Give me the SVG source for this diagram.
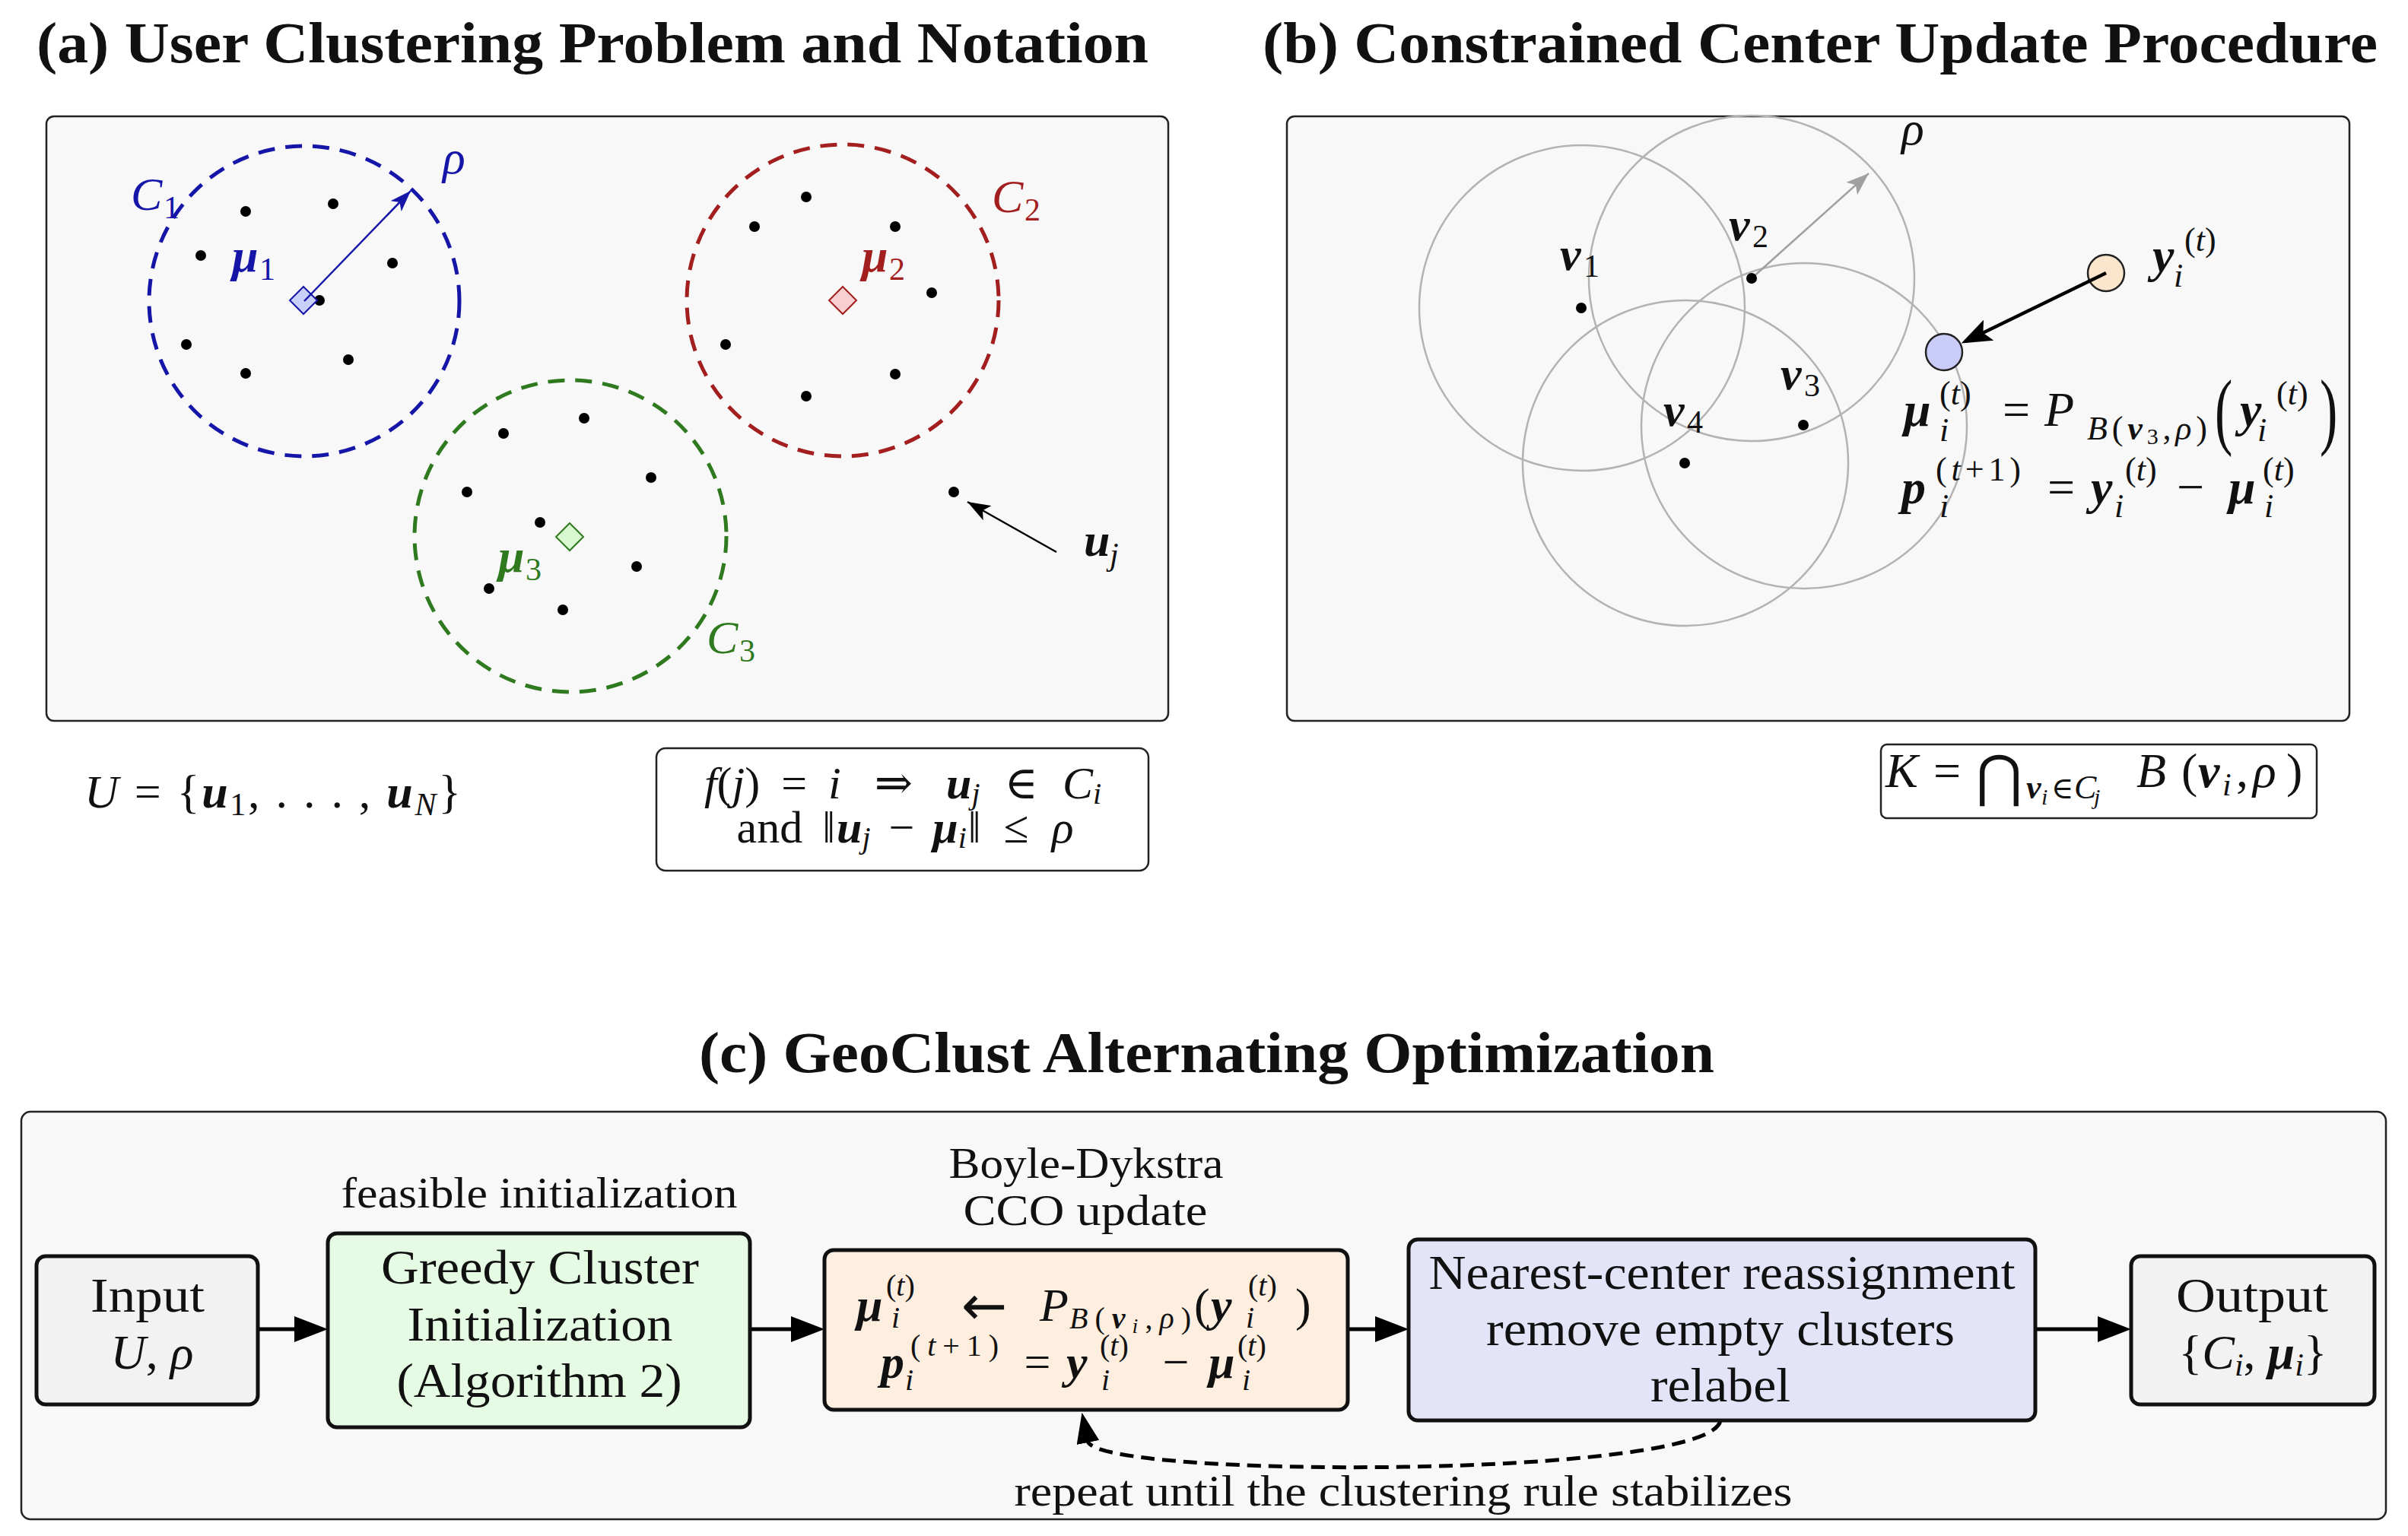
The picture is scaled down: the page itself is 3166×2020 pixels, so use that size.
<svg xmlns="http://www.w3.org/2000/svg" width="3166" height="2020" viewBox="0 0 3166 2020">
<defs>
<style>
.ttl{font-family:"Liberation Serif","DejaVu Serif",serif;font-weight:bold;font-size:76px;fill:#111}
.t{font-family:"Liberation Serif","DejaVu Serif",serif;fill:#111}
.it{font-style:italic}
.bi{font-style:italic;font-weight:bold}
.panel{fill:#f8f8f8;stroke:#222;stroke-width:2.5}
.node{stroke:#111;stroke-width:5}
.dot{fill:#000}
.gc{fill:none;stroke:#b3b3b3;stroke-width:2.5}
.blue{fill:#1515a8}
.red{fill:#a31f1f}
.green{fill:#2f7a1f}
.bx{font-size:64px}
.lb{font-size:58px}
.m64{font-size:64px}
.m62{font-size:62px}
.s44{font-size:44px}
.s42{font-size:42px}
.s40{font-size:40px}
</style>
<marker id="mC" viewBox="0 0 44 34" markerWidth="44" markerHeight="34" refX="24" refY="17" orient="auto" markerUnits="userSpaceOnUse"><path d="M0,0 L44,17 L0,34 z" fill="#000"/></marker>
<marker id="mLoop" viewBox="0 0 40 30" markerWidth="40" markerHeight="30" refX="2" refY="15" orient="auto" markerUnits="userSpaceOnUse"><path d="M0,0 L40,15 L0,30 z" fill="#000"/></marker>
<marker id="mBlue" viewBox="0 0 28 20" markerWidth="28" markerHeight="20" refX="28" refY="10" orient="auto" markerUnits="userSpaceOnUse"><path d="M0,0 L28,10 L0,20 L7,10 z" fill="#1515a8"/></marker>
<marker id="mBlack" viewBox="0 0 30 22" markerWidth="30" markerHeight="22" refX="30" refY="11" orient="auto" markerUnits="userSpaceOnUse"><path d="M0,0 L30,11 L0,22 L7,11 z" fill="#000"/></marker>
<marker id="mGray" viewBox="0 0 30 22" markerWidth="30" markerHeight="22" refX="30" refY="11" orient="auto" markerUnits="userSpaceOnUse"><path d="M0,0 L30,11 L0,22 L7,11 z" fill="#a0a0a0"/></marker>
<marker id="mThick" viewBox="0 0 40 30" markerWidth="40" markerHeight="30" refX="34" refY="15" orient="auto" markerUnits="userSpaceOnUse"><path d="M0,0 L40,15 L0,30 L8,15 z" fill="#000"/></marker>
</defs>
<rect width="3166" height="2020" fill="#fff"/>

<!-- Titles -->
<text class="ttl" x="48" y="82" textLength="1462" lengthAdjust="spacingAndGlyphs">(a) User Clustering Problem and Notation</text>
<text class="ttl" x="1660" y="82" textLength="1466" lengthAdjust="spacingAndGlyphs">(b) Constrained Center Update Procedure</text>
<text class="ttl" x="919" y="1410" textLength="1335" lengthAdjust="spacingAndGlyphs">(c) GeoClust Alternating Optimization</text>

<!-- Panel (a) -->
<g id="panel-a">
<rect class="panel" x="61" y="153" width="1475" height="795" rx="10"/>
<circle cx="400" cy="396" r="204" fill="none" stroke="#1515a8" stroke-width="5" stroke-dasharray="22 14"/>
<circle cx="1108" cy="395" r="205" fill="none" stroke="#a31f1f" stroke-width="5" stroke-dasharray="22 14"/>
<circle cx="750" cy="705" r="205" fill="none" stroke="#2f7a1f" stroke-width="5" stroke-dasharray="22 14"/>
<g class="dot">
<circle cx="323" cy="278" r="7"/><circle cx="438" cy="268" r="7"/><circle cx="264" cy="336" r="7"/><circle cx="516" cy="346" r="7"/><circle cx="420" cy="395" r="7"/><circle cx="245" cy="453" r="7"/><circle cx="458" cy="473" r="7"/><circle cx="323" cy="491" r="7"/>
<circle cx="1060" cy="259" r="7"/><circle cx="992" cy="298" r="7"/><circle cx="1177" cy="298" r="7"/><circle cx="1225" cy="385" r="7"/><circle cx="954" cy="453" r="7"/><circle cx="1177" cy="492" r="7"/><circle cx="1060" cy="521" r="7"/>
<circle cx="768" cy="550" r="7"/><circle cx="662" cy="570" r="7"/><circle cx="856" cy="628" r="7"/><circle cx="614" cy="647" r="7"/><circle cx="710" cy="687" r="7"/><circle cx="837" cy="745" r="7"/><circle cx="643" cy="774" r="7"/><circle cx="740" cy="802" r="7"/>
<circle cx="1254" cy="647" r="7"/>
</g>
<path d="M399,377 L417,395 L399,413 L381,395 z" fill="#c8d0f8" stroke="#1515a8" stroke-width="2"/>
<path d="M1108,377 L1126,395 L1108,413 L1090,395 z" fill="#f8d0d0" stroke="#a31f1f" stroke-width="2"/>
<path d="M749,688 L767,706 L749,724 L731,706 z" fill="#d8f8d0" stroke="#2f7a1f" stroke-width="2"/>
<line x1="400" y1="396" x2="540" y2="251" stroke="#1515a8" stroke-width="2.5" marker-end="url(#mBlue)"/>
<line x1="1389" y1="726" x2="1272" y2="660" stroke="#000" stroke-width="2.5" marker-end="url(#mBlack)"/>
<text class="t it blue" x="172" y="276" font-size="62">C</text><text class="t blue" x="215" y="287" font-size="42">1</text>
<text class="t it blue" x="582" y="228" font-size="62">ρ</text>
<text class="t bi blue" x="305" y="357" font-size="62">μ</text><text class="t blue" x="341" y="368" font-size="42">1</text>
<text class="t bi red" x="1133" y="357" font-size="62">μ</text><text class="t red" x="1169" y="368" font-size="42">2</text>
<text class="t it red" x="1304" y="279" font-size="62">C</text><text class="t red" x="1347" y="290" font-size="42">2</text>
<text class="t bi green" x="655" y="752" font-size="62">μ</text><text class="t green" x="691" y="763" font-size="42">3</text>
<text class="t it green" x="929" y="859" font-size="62">C</text><text class="t green" x="972" y="870" font-size="42">3</text>
<text class="t bi" x="1425" y="731" font-size="62">u</text><text class="t it" x="1459" y="743" font-size="42">j</text>
</g>

<g id="set-U">
<text class="t" x="111" y="1062" font-size="62" textLength="495"><tspan class="it">U</tspan> = {<tspan class="bi">u</tspan><tspan font-size="42" dy="10">1</tspan><tspan dy="-10">, . . . , </tspan><tspan class="bi">u</tspan><tspan class="it" font-size="42" dy="10">N</tspan><tspan dy="-10">}</tspan></text>
</g>

<g id="rule-box">
<rect x="863" y="984" width="647" height="161" rx="12" fill="#fff" stroke="#222" stroke-width="2.5"/>
<text class="t" x="1187" y="1050" font-size="60" text-anchor="middle"><tspan class="it">f</tspan>(<tspan class="it">j</tspan>)<tspan dx="28">=</tspan><tspan class="it" dx="28">i</tspan><tspan dx="44">⇒</tspan><tspan class="bi" dx="44">u</tspan><tspan class="it" font-size="40" dy="7">j</tspan><tspan dy="-7" dx="32">∈</tspan><tspan class="it" dx="32">C</tspan><tspan class="it" font-size="40" dy="7">i</tspan></text>
<text class="t" x="1190" y="1108" font-size="60" text-anchor="middle">and<tspan dx="26">‖</tspan><tspan class="bi" dx="2">u</tspan><tspan class="it" font-size="40" dy="7">j</tspan><tspan dy="-7" dx="24">−</tspan><tspan class="bi" dx="24">μ</tspan><tspan class="it" font-size="40" dy="7">i</tspan><tspan dy="-7" dx="2">‖</tspan><tspan dx="30">≤</tspan><tspan class="it" dx="30">ρ</tspan></text>
</g>

<!-- Panel (b) -->
<g id="panel-b">
<rect class="panel" x="1692" y="153" width="1397" height="795" rx="10"/>
<circle class="gc" cx="2080" cy="405" r="214"/>
<circle class="gc" cx="2303" cy="366" r="214"/>
<circle class="gc" cx="2372" cy="560" r="214"/>
<circle class="gc" cx="2216" cy="609" r="214"/>
<line x1="2303" y1="366" x2="2457" y2="228" stroke="#a0a0a0" stroke-width="2.5" marker-end="url(#mGray)"/>
<text class="t it" x="2500" y="190" font-size="62" fill="#a8a8a8">ρ</text>
<g class="dot"><circle cx="2079" cy="405" r="7"/><circle cx="2303" cy="366" r="7"/><circle cx="2371" cy="559" r="7"/><circle cx="2215" cy="609" r="7"/></g>
<text class="t bi" x="2051" y="355" font-size="62">v</text><text class="t" x="2082" y="364" font-size="42">1</text>
<text class="t bi" x="2273" y="316" font-size="62">v</text><text class="t" x="2304" y="325" font-size="42">2</text>
<text class="t bi" x="2341" y="512" font-size="62">v</text><text class="t" x="2372" y="521" font-size="42">3</text>
<text class="t bi" x="2187" y="560" font-size="62">v</text><text class="t" x="2218" y="569" font-size="42">4</text>
<circle cx="2769" cy="359" r="24" fill="#fbe5cc" stroke="#222" stroke-width="2.5"/>
<circle cx="2556" cy="463" r="24" fill="#c9ccf6" stroke="#222" stroke-width="2.5"/>
<line x1="2769" y1="359" x2="2584" y2="449" stroke="#000" stroke-width="4.5" marker-end="url(#mThick)"/>
<text class="t bi m64" x="2830" y="357">y</text><text class="t s44" x="2872" y="330">(<tspan class="it">t</tspan>)</text><text class="t it s44" x="2858" y="377">i</text>
<!-- equation 1 -->
<text class="t bi m64" x="2503" y="560">μ</text><text class="t s44" x="2550" y="532">(<tspan class="it">t</tspan>)</text><text class="t it s44" x="2550" y="580">i</text>
<text class="t m64" x="2651" y="560" text-anchor="middle">=</text>
<text class="t it m64" x="2688" y="560">P</text>
<text class="t s44" x="2744" y="578" textLength="158"><tspan class="it">B</tspan>(<tspan class="bi">v</tspan><tspan font-size="30" dy="6">3</tspan><tspan dy="-6">,</tspan><tspan class="it">ρ</tspan>)</text>
<text class="t" font-size="70" transform="translate(2912,577) scale(1,1.6)">(</text>
<text class="t bi m64" x="2945" y="560">y</text><text class="t s44" x="2993" y="532">(<tspan class="it">t</tspan>)</text><text class="t it s44" x="2968" y="580">i</text>
<text class="t" font-size="70" transform="translate(3050,577) scale(1,1.6)">)</text>
<!-- equation 2 -->
<text class="t bi m64" x="2500" y="662">p</text><text class="t s44" x="2545" y="632" textLength="112">(<tspan class="it">t</tspan>+1)</text><text class="t it s44" x="2550" y="680">i</text>
<text class="t m64" x="2710" y="662" text-anchor="middle">=</text>
<text class="t bi m64" x="2749" y="662">y</text><text class="t s44" x="2794" y="632">(<tspan class="it">t</tspan>)</text><text class="t it s44" x="2780" y="680">i</text>
<text class="t m64" x="2880" y="662" text-anchor="middle">−</text>
<text class="t bi m64" x="2930" y="662">μ</text><text class="t s44" x="2975" y="632">(<tspan class="it">t</tspan>)</text><text class="t it s44" x="2977" y="680">i</text>
</g>

<g id="K-box">
<rect x="2473" y="979" width="573" height="97" rx="8" fill="#fff" stroke="#222" stroke-width="2.5"/>
<text class="t it m64" x="2479" y="1035">K</text>
<text class="t m64" x="2560" y="1035" text-anchor="middle">=</text>
<text x="2598" y="1046" font-family="DejaVu Sans,sans-serif" font-size="74" fill="#111">⋂</text>
<text class="t bi s44" x="2664" y="1050">v</text><text class="t it" x="2684" y="1058" font-size="30">i</text>
<text class="t" x="2697" y="1050" font-size="40">∈</text>
<text class="t it s44" x="2727" y="1050">C</text><text class="t it" x="2753" y="1058" font-size="30">j</text>
<text class="t it m64" x="2809" y="1035">B</text>
<text class="t m64" x="2868" y="1035">(</text>
<text class="t bi m64" x="2890" y="1035">v</text><text class="t it s42" x="2922" y="1046">i</text>
<text class="t m64" x="2940" y="1035">,</text>
<text class="t it m64" x="2962" y="1035">ρ</text>
<text class="t m64" x="3006" y="1035">)</text>
</g>

<!-- Panel (c) -->
<rect id="panel-c" class="panel" x="28" y="1462" width="3109" height="536" rx="12"/>

<g id="connectors">
<line x1="339" y1="1748" x2="411" y2="1748" stroke="#000" stroke-width="5" marker-end="url(#mC)"/>
<line x1="986" y1="1748" x2="1064" y2="1748" stroke="#000" stroke-width="5" marker-end="url(#mC)"/>
<line x1="1772" y1="1748" x2="1832" y2="1748" stroke="#000" stroke-width="5" marker-end="url(#mC)"/>
<line x1="2676" y1="1748" x2="2782" y2="1748" stroke="#000" stroke-width="5" marker-end="url(#mC)"/>
<path d="M2262,1868 C2250,1945 1440,1945 1430,1895" fill="none" stroke="#000" stroke-width="5" stroke-dasharray="18 10" marker-end="url(#mLoop)"/>
<text class="t lb" x="1845" y="1980" text-anchor="middle" textLength="1023" lengthAdjust="spacingAndGlyphs">repeat until the clustering rule stabilizes</text>
</g>

<g id="node-input">
<rect class="node" x="48" y="1652" width="291" height="195" rx="12" fill="#f2f2f2"/>
<text class="t bx" x="194" y="1725" text-anchor="middle" textLength="150" lengthAdjust="spacingAndGlyphs">Input</text>
<text class="t bx" x="200" y="1800" text-anchor="middle"><tspan class="it">U</tspan>, <tspan class="it">ρ</tspan></text>
</g>

<g id="node-greedy">
<text class="t lb" x="709" y="1588" text-anchor="middle" textLength="521" lengthAdjust="spacingAndGlyphs">feasible initialization</text>
<rect class="node" x="431" y="1622" width="555" height="255" rx="12" fill="#e6fbe4"/>
<text class="t bx" x="710" y="1688" text-anchor="middle" textLength="418" lengthAdjust="spacingAndGlyphs">Greedy Cluster</text>
<text class="t bx" x="710" y="1763" text-anchor="middle" textLength="349" lengthAdjust="spacingAndGlyphs">Initialization</text>
<text class="t bx" x="709" y="1837" text-anchor="middle" textLength="375" lengthAdjust="spacingAndGlyphs">(Algorithm 2)</text>
</g>

<g id="node-cco">
<text class="t lb" x="1428" y="1549" text-anchor="middle" textLength="361" lengthAdjust="spacingAndGlyphs">Boyle-Dykstra</text>
<text class="t lb" x="1427" y="1611" text-anchor="middle" textLength="321" lengthAdjust="spacingAndGlyphs">CCO update</text>
<rect class="node" x="1084" y="1644" width="688" height="210" rx="12" fill="#fdeee0"/>
<text class="t bi m62" x="1126" y="1737">μ</text><text class="t s40" x="1165" y="1704">(<tspan class="it">t</tspan>)</text><text class="t it s40" x="1172" y="1746">i</text>
<text x="1264" y="1742" font-family="DejaVu Sans,sans-serif" font-size="72" fill="#111">←</text>
<text class="t it m62" x="1367" y="1737">P</text>
<text class="t s40" x="1406" y="1747" textLength="160"><tspan class="it">B</tspan>(<tspan class="bi">v</tspan><tspan class="it" font-size="28" dy="6">i</tspan><tspan dy="-6">,</tspan><tspan class="it">ρ</tspan>)</text>
<text class="t m62" x="1570" y="1737">(</text>
<text class="t bi m62" x="1592" y="1737">y</text><text class="t s40" x="1641" y="1704">(<tspan class="it">t</tspan>)</text><text class="t it s40" x="1638" y="1746">i</text>
<text class="t m62" x="1703" y="1737">)</text>
<text class="t bi m62" x="1158" y="1812">p</text><text class="t s40" x="1197" y="1783" textLength="116">(<tspan class="it">t</tspan>+1)</text><text class="t it s40" x="1190" y="1828">i</text>
<text class="t m62" x="1364" y="1812" text-anchor="middle">=</text>
<text class="t bi m62" x="1402" y="1812">y</text><text class="t s40" x="1446" y="1783">(<tspan class="it">t</tspan>)</text><text class="t it s40" x="1448" y="1828">i</text>
<text class="t m62" x="1546" y="1812" text-anchor="middle">−</text>
<text class="t bi m62" x="1589" y="1812">μ</text><text class="t s40" x="1627" y="1783">(<tspan class="it">t</tspan>)</text><text class="t it s40" x="1633" y="1828">i</text>
</g>

<g id="node-reassign">
<rect class="node" x="1852" y="1630" width="824" height="238" rx="12" fill="#e4e4f9"/>
<text class="t bx" x="2264" y="1695" text-anchor="middle" textLength="771" lengthAdjust="spacingAndGlyphs">Nearest-center reassignment</text>
<text class="t bx" x="2262" y="1769" text-anchor="middle" textLength="616" lengthAdjust="spacingAndGlyphs">remove empty clusters</text>
<text class="t bx" x="2262" y="1843" text-anchor="middle" textLength="184" lengthAdjust="spacingAndGlyphs">relabel</text>
</g>

<g id="node-output">
<rect class="node" x="2802" y="1652" width="320" height="195" rx="12" fill="#f2f2f2"/>
<text class="t bx" x="2961" y="1725" text-anchor="middle" textLength="200" lengthAdjust="spacingAndGlyphs">Output</text>
<text class="t bx" x="2962" y="1800" text-anchor="middle">{<tspan class="it">C</tspan><tspan class="it" font-size="42" dy="9">i</tspan><tspan dy="-9">, </tspan><tspan class="bi">μ</tspan><tspan class="it" font-size="42" dy="9">i</tspan><tspan dy="-9">}</tspan></text>
</g>
</svg>
